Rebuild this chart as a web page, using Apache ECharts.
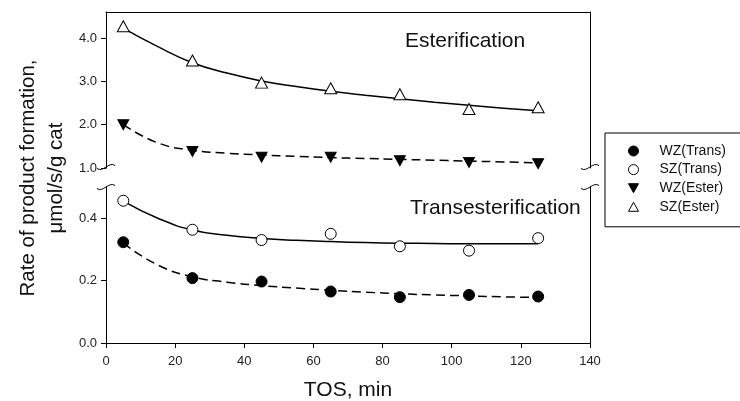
<!DOCTYPE html>
<html>
<head>
<meta charset="utf-8">
<script src="https://cdn.jsdelivr.net/npm/echarts@6/dist/echarts.min.js"></script>
<style>
  html, body { margin: 0; padding: 0; background: #fff; }
  #main { width: 740px; height: 401px; }
</style>
</head>
<body>
<div id="main"></div>
<script>
// measured points (TOS, min)
var tos = [5, 25, 45, 65, 85, 105, 125];
var wzTrans = [0.323, 0.208, 0.197, 0.165, 0.147, 0.154, 0.149];
var szTrans = [0.456, 0.363, 0.330, 0.350, 0.310, 0.296, 0.336];
var wzEster = [2.00, 1.38, 1.25, 1.25, 1.17, 1.13, 1.10];
var szEster = [4.27, 3.48, 2.97, 2.84, 2.70, 2.36, 2.40];

// fitted curves, every 10 min
var fitTos = [5, 15, 25, 35, 45, 55, 65, 75, 85, 95, 105, 115, 125];
var wzTransFit = [0.320, 0.250, 0.212, 0.195, 0.184, 0.176, 0.169, 0.163, 0.158, 0.154, 0.151, 0.148, 0.146];
var szTransFit = [0.455, 0.400, 0.362, 0.345, 0.335, 0.329, 0.325, 0.322, 0.320, 0.319, 0.318, 0.318, 0.318];
var wzEsterFit = [2.00, 1.58, 1.41, 1.34, 1.30, 1.27, 1.24, 1.22, 1.20, 1.18, 1.16, 1.14, 1.12];
var szEsterFit = [4.23, 3.80, 3.43, 3.19, 3.01, 2.88, 2.77, 2.68, 2.60, 2.52, 2.45, 2.38, 2.32];

var upperTicks = [1, 2, 3, 4];
var lowerTicks = [0, 0.2, 0.4];

var FONT = 'Liberation Sans, Arial, sans-serif';

function pairs(xs, ys) {
  return xs.map(function (x, i) { return [x, ys[i]]; });
}

var chart = echarts.init(document.getElementById('main'));

// tilde-shaped axis break marks
function breakMark(cx, cy) {
  return {
    type: 'bezierCurve',
    shape: {
      x1: cx - 9, y1: cy + 1.5,
      cpx1: cx - 3, cpy1: cy + 6,
      cpx2: cx + 3, cpy2: cy - 6,
      x2: cx + 9, y2: cy - 1.5
    },
    style: { fill: null, stroke: '#000', lineWidth: 1 },
    z: 10
  };
}

var axisLine = { show: true, onZero: false, lineStyle: { color: '#000', width: 1 } };

chart.setOption({
  animation: false,
  textStyle: { fontFamily: FONT },
  grid: [
    { left: 106, width: 484, top: 12, height: 156 },
    { left: 106, width: 484, top: 187, height: 156 }
  ],
  xAxis: [
    {
      gridIndex: 0, type: 'value', min: 0, max: 140, position: 'top',
      axisLine: axisLine, axisTick: { show: false }, axisLabel: { show: false },
      splitLine: { show: false }
    },
    {
      gridIndex: 1, type: 'value', min: 0, max: 140, interval: 20, position: 'bottom',
      axisLine: axisLine,
      axisTick: { show: true, length: 5, lineStyle: { color: '#000' } },
      axisLabel: { fontSize: 13, color: '#222', margin: 12, fontFamily: FONT },
      splitLine: { show: false }
    }
  ],
  yAxis: [
    {
      gridIndex: 0, type: 'value', min: 1, max: 4.6,
      axisLine: axisLine,
      axisTick: { show: true, length: 5, customValues: upperTicks, lineStyle: { color: '#000' } },
      axisLabel: {
        customValues: upperTicks, fontSize: 13, color: '#222', margin: 9, fontFamily: FONT,
        formatter: function (v) { return v.toFixed(1); }
      },
      splitLine: { show: false }
    },
    {
      gridIndex: 0, type: 'value', min: 1, max: 4.6, position: 'right',
      axisLine: axisLine, axisTick: { show: false }, axisLabel: { show: false },
      splitLine: { show: false }
    },
    {
      gridIndex: 1, type: 'value', min: 0, max: 0.5,
      axisLine: axisLine,
      axisTick: { show: true, length: 5, customValues: lowerTicks, lineStyle: { color: '#000' } },
      axisLabel: {
        customValues: lowerTicks, fontSize: 13, color: '#222', margin: 9, fontFamily: FONT,
        formatter: function (v) { return v.toFixed(1); }
      },
      splitLine: { show: false }
    },
    {
      gridIndex: 1, type: 'value', min: 0, max: 0.5, position: 'right',
      axisLine: axisLine, axisTick: { show: false }, axisLabel: { show: false },
      splitLine: { show: false }
    }
  ],
  legend: {
    orient: 'vertical',
    left: 605, top: 133,
    padding: [11, 30, 13, 23],
    itemWidth: 10, itemHeight: 10, itemGap: 4.6,
    borderColor: '#000', borderWidth: 1, borderRadius: 0,
    itemStyle: { borderWidth: 1 },
    textStyle: { fontSize: 14, color: '#111', fontFamily: FONT, padding: [0, 0, 0, 16] },
    data: [
      { name: 'WZ(Trans)', icon: 'circle' },
      { name: 'SZ(Trans)', icon: 'circle' },
      { name: 'WZ(Ester)', icon: 'path://M0,0 L10,0 L5,9 Z' },
      { name: 'SZ(Ester)', icon: 'path://M5,0 L10,9 L0,9 Z' }
    ]
  },
  graphic: [
    {
      type: 'text', left: 405, top: 31,
      style: { text: 'Esterification', font: '21px ' + FONT, fill: '#111' }
    },
    {
      type: 'text', left: 410, top: 198,
      style: { text: 'Transesterification', font: '21px ' + FONT, fill: '#111' }
    },
    {
      type: 'text', x: 28, y: 178, rotation: Math.PI / 2,
      style: { text: 'Rate of product formation,', font: '20.5px ' + FONT, fill: '#111', align: 'center', verticalAlign: 'middle' }
    },
    {
      type: 'text', x: 56, y: 178, rotation: Math.PI / 2,
      style: { text: 'μmol/s/g cat', font: '20.5px ' + FONT, fill: '#111', align: 'center', verticalAlign: 'middle' }
    },
    {
      type: 'text', x: 348, y: 390,
      style: { text: 'TOS, min', font: '21px ' + FONT, fill: '#111', align: 'center', verticalAlign: 'middle' }
    },
    { type: 'rect', shape: { x: 100, y: 169, width: 12, height: 17 }, style: { fill: '#fff' }, z: 9 },
    { type: 'rect', shape: { x: 584, y: 169, width: 12, height: 17 }, style: { fill: '#fff' }, z: 9 },
    breakMark(106, 167),
    breakMark(106, 187),
    breakMark(590, 167),
    breakMark(590, 187)
  ],
  series: [
    {
      name: 'fitSzEster', type: 'line', xAxisIndex: 0, yAxisIndex: 0, smooth: true,
      showSymbol: false, data: pairs(fitTos, szEsterFit),
      lineStyle: { color: '#000', width: 1.5 }, z: 2, silent: true
    },
    {
      name: 'fitWzEster', type: 'line', xAxisIndex: 0, yAxisIndex: 0, smooth: true,
      showSymbol: false, data: pairs(fitTos, wzEsterFit),
      lineStyle: { color: '#000', width: 1.5, type: [9, 5] }, z: 2, silent: true
    },
    {
      name: 'fitSzTrans', type: 'line', xAxisIndex: 1, yAxisIndex: 2, smooth: true,
      showSymbol: false, data: pairs(fitTos, szTransFit),
      lineStyle: { color: '#000', width: 1.5 }, z: 2, silent: true
    },
    {
      name: 'fitWzTrans', type: 'line', xAxisIndex: 1, yAxisIndex: 2, smooth: true,
      showSymbol: false, data: pairs(fitTos, wzTransFit),
      lineStyle: { color: '#000', width: 1.5, type: [9, 5] }, z: 2, silent: true
    },
    {
      name: 'WZ(Trans)', type: 'scatter', xAxisIndex: 1, yAxisIndex: 2,
      symbol: 'circle', symbolSize: 11, data: pairs(tos, wzTrans),
      itemStyle: { color: '#000', borderColor: '#000', borderWidth: 1, opacity: 1 }, z: 5
    },
    {
      name: 'SZ(Trans)', type: 'scatter', xAxisIndex: 1, yAxisIndex: 2,
      symbol: 'circle', symbolSize: 11, data: pairs(tos, szTrans),
      itemStyle: { color: '#fff', borderColor: '#000', borderWidth: 1, opacity: 1 }, z: 5
    },
    {
      name: 'WZ(Ester)', type: 'scatter', xAxisIndex: 0, yAxisIndex: 0,
      symbol: 'path://M0,0 L10,0 L5,9 Z', symbolSize: [11, 10], data: pairs(tos, wzEster),
      itemStyle: { color: '#000', borderColor: '#000', borderWidth: 1, opacity: 1 }, z: 5
    },
    {
      name: 'SZ(Ester)', type: 'scatter', xAxisIndex: 0, yAxisIndex: 0,
      symbol: 'path://M5,0 L10,9 L0,9 Z', symbolSize: [12, 11], data: pairs(tos, szEster),
      itemStyle: { color: '#fff', borderColor: '#000', borderWidth: 1, opacity: 1 }, z: 5
    }
  ]
});
</script>
</body>
</html>
